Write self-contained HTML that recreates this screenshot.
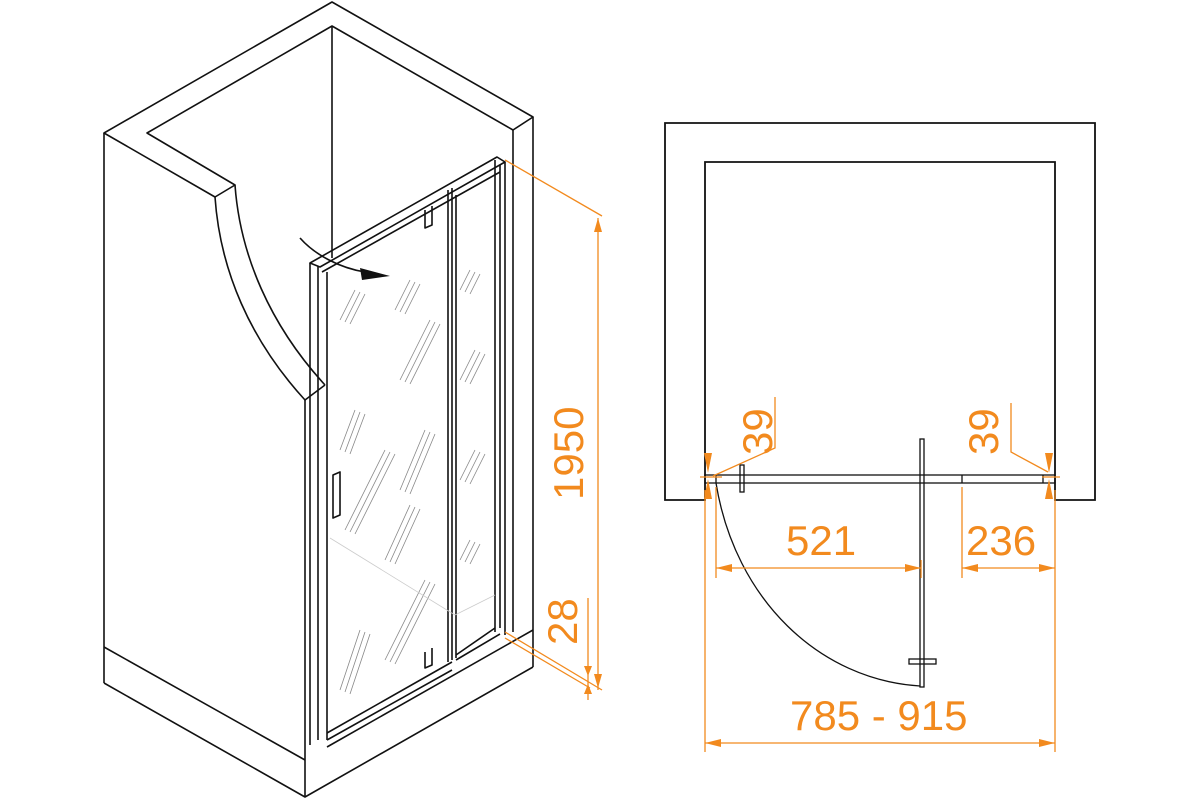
<!DOCTYPE html>
<html><head><meta charset="utf-8"><style>
html,body{margin:0;padding:0;background:#fff;}
svg{display:block}
text{font-family:"Liberation Sans",sans-serif;fill:#f28a1e;font-size:42px}
</style></head><body>
<svg width="1200" height="800" viewBox="0 0 1200 800" xmlns="http://www.w3.org/2000/svg">
<g fill="none" stroke="#111" stroke-width="1.6" stroke-linejoin="round">
<path d="M104,133 L332,2 L533,117 L513,130 L332,26 L147,133 L235,185 L215,197 Z"/>
<line x1="332" y1="26" x2="332" y2="258"/>
<path d="M215,197 C220,270 250,340 305,400"/>
<path d="M235,185 C240,255 270,325 325,385"/>
<line x1="305" y1="400" x2="325" y2="385"/>
<line x1="305" y1="400" x2="305" y2="797"/>
<line x1="104" y1="133" x2="104" y2="683"/>
<line x1="513" y1="130" x2="513" y2="632"/>
<line x1="533" y1="117" x2="533" y2="667"/>
<path d="M104,647 L305,760"/>
<path d="M104,683 L305,797 L533,667"/>
<path d="M327,747 L533,630"/>
<path d="M310,263 L497,157 L505,162 L320,267 Z"/>
<path d="M322,272 L500,172"/>
<line x1="310" y1="263" x2="310" y2="745"/>
<line x1="318" y1="266" x2="318" y2="740"/>
<line x1="327" y1="272" x2="327" y2="740"/>
<line x1="495" y1="160" x2="495" y2="632"/>
<line x1="500" y1="165" x2="500" y2="628"/>
<line x1="505" y1="162" x2="505" y2="635"/>
<line x1="448" y1="190" x2="448" y2="662"/>
<line x1="452" y1="188" x2="452" y2="660"/>
<line x1="456" y1="195" x2="456" y2="658"/>
<path d="M327,740 L452,670 M327,733 L452,662 M456,660 L500,634 M456,655 L495,628"/>
<path d="M425,210 L425,228 L432,225 L432,206"/>
<path d="M425,652 L425,668 L432,665 L432,648"/>
<path d="M333,475 L340,472 L340,515 L333,518 Z"/>
<path d="M300,238 C315,255 340,268 365,272"/>
</g>
<polygon points="360,268 390,276 362,280" fill="#111"/>
<g stroke="#888" stroke-width="0.8">
<path d="M340,320 L355,290 M345,322 L360,292 M350,324 L365,294"/>
<path d="M395,310 L410,280 M400,312 L415,282 M405,314 L420,284"/>
<path d="M400,380 L430,320 M405,382 L435,322 M410,384 L440,324"/>
<path d="M340,450 L355,410 M345,452 L360,412 M350,454 L365,414"/>
<path d="M345,530 L385,450 M350,532 L390,452 M355,534 L395,454"/>
<path d="M385,560 L410,505 M390,562 L415,507 M395,564 L420,509"/>
<path d="M400,490 L425,430 M405,492 L430,432 M410,494 L435,434"/>
<path d="M385,660 L425,580 M390,662 L430,582 M395,664 L435,584"/>
<path d="M340,690 L360,630 M345,692 L365,632 M350,694 L370,634"/>
<path d="M460,290 L470,270 M465,292 L475,272 M470,294 L480,274"/>
<path d="M460,380 L475,350 M465,382 L480,352 M470,384 L485,354"/>
<path d="M460,480 L475,450 M465,482 L480,452 M470,484 L485,454"/>
<path d="M460,560 L470,540 M465,562 L475,542 M470,564 L480,544"/>
<path d="M330,538 L455,615 M455,615 L495,595" stroke="#ccc"/>
</g>
<g stroke="#f28a1e" stroke-width="1.3" fill="none">
<line x1="505" y1="160" x2="602" y2="216"/>
<line x1="505" y1="632" x2="602" y2="690"/>
<line x1="505" y1="638" x2="590" y2="688"/>
<line x1="598" y1="218" x2="598" y2="690"/>
<line x1="588" y1="598" x2="588" y2="700"/>
</g>
<g fill="#f28a1e">
<polygon points="598,218 594,232 602,232"/>
<polygon points="598,688 594,674 602,674"/>
<polygon points="588,676 584,666 592,666"/>
<polygon points="588,684 584,694 592,694"/>
</g>
<text transform="translate(583,500) rotate(-90)">1950</text>
<text transform="translate(577,645) rotate(-90)">28</text>
<g fill="none" stroke="#111" stroke-width="1.8">
<path d="M665,123 L1095,123 L1095,500 L1055,500 L1055,162 L705,162 L705,500 L665,500 Z"/>
</g>
<g fill="none" stroke="#111" stroke-width="1.3">
<rect x="705" y="475" width="350" height="8"/>
<line x1="716" y1="475" x2="716" y2="483"/>
<line x1="962" y1="475" x2="962" y2="483"/>
<line x1="1043" y1="475" x2="1043" y2="483"/>
<rect x="740" y="465" width="4" height="27"/>
<rect x="920" y="439" width="4" height="248"/>
<rect x="909" y="659" width="27" height="5"/>
<path d="M716,483 C735,600 820,680 920,686"/>
</g>
<g stroke="#f28a1e" stroke-width="1.3" fill="none">
<line x1="705" y1="490" x2="705" y2="752"/>
<line x1="1055" y1="490" x2="1055" y2="752"/>
<line x1="716" y1="487" x2="716" y2="578"/>
<line x1="962" y1="487" x2="962" y2="578"/>
<line x1="921" y1="560" x2="921" y2="578"/>
<line x1="716" y1="568" x2="921" y2="568"/>
<line x1="962" y1="568" x2="1055" y2="568"/>
<line x1="705" y1="743" x2="1055" y2="743"/>
<path d="M713,476 L775,448 L775,397"/>
<path d="M1048,472 L1011,452 L1011,403"/>
<line x1="700" y1="477" x2="722" y2="477"/>
<line x1="1042" y1="477" x2="1060" y2="477"/>
</g>
<g fill="#f28a1e">
<polygon points="716,568 732,564 732,572"/>
<polygon points="921,568 905,564 905,572"/>
<polygon points="962,568 978,564 978,572"/>
<polygon points="1055,568 1039,564 1039,572"/>
<polygon points="705,743 721,739 721,747"/>
<polygon points="1055,743 1039,739 1039,747"/>
<polygon points="708,473 704,453 712,453"/>
<polygon points="708,479 704,499 712,499"/>
<polygon points="1049,473 1045,453 1053,453"/>
<polygon points="1049,479 1045,499 1053,499"/>
</g>
<text x="786" y="555">521</text>
<text x="966" y="555">236</text>
<text x="790" y="730">785 - 915</text>
<text transform="translate(772,455) rotate(-90)">39</text>
<text transform="translate(998,455) rotate(-90)">39</text>
</svg>
</body></html>
